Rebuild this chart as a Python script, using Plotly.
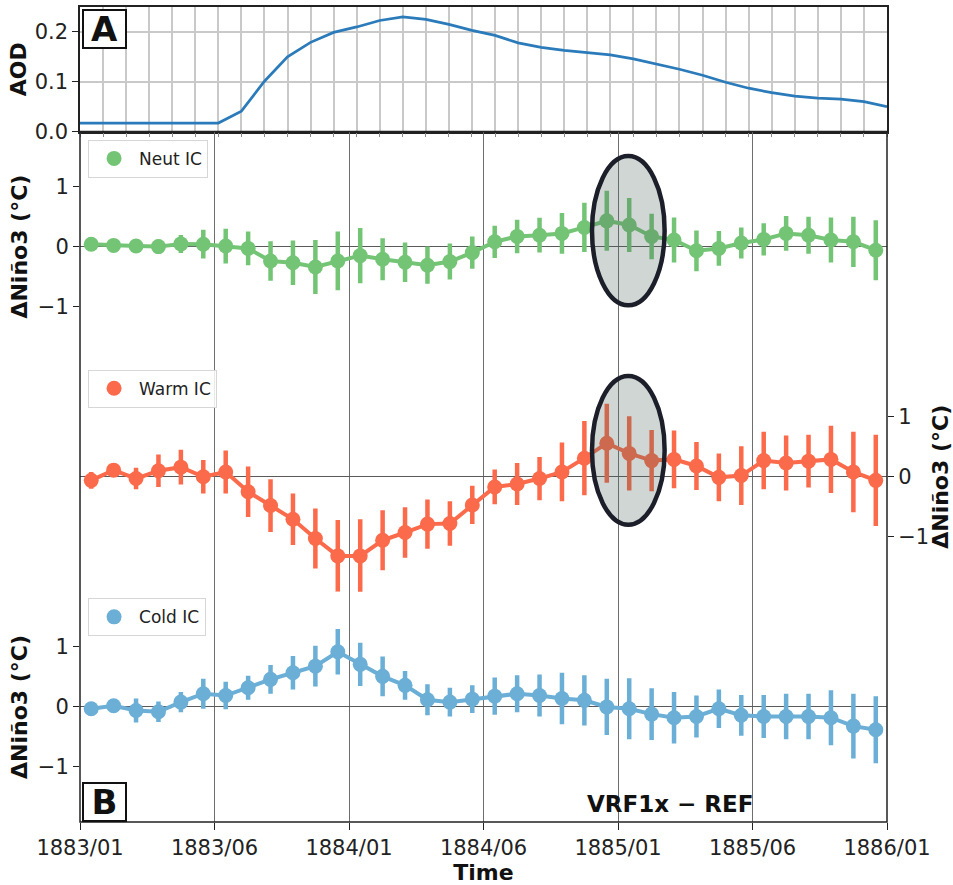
import plotly.graph_objects as go

# ---------------- data ----------------
TICK_LABELS = ["1883/01", "1883/06", "1884/01", "1884/06", "1885/01", "1885/06", "1886/01"]
TICK_MONTHS = [0, 6, 12, 18, 24, 30, 36]

AOD = [0.017, 0.017, 0.017, 0.017, 0.017, 0.017, 0.017, 0.041, 0.101, 0.150,
       0.179, 0.199, 0.210, 0.223, 0.230, 0.225, 0.215, 0.203, 0.193, 0.178,
       0.169, 0.163, 0.159, 0.154, 0.146, 0.136, 0.125, 0.113, 0.099, 0.087,
       0.078, 0.071, 0.067, 0.065, 0.060, 0.050]

NEUT = [0.04, 0.02, 0.01, 0.00, 0.045, 0.04, 0.01, -0.03, -0.24, -0.27,
        -0.34, -0.24, -0.15, -0.21, -0.26, -0.31, -0.25, -0.10, 0.08, 0.17,
        0.19, 0.22, 0.32, 0.43, 0.36, 0.17, 0.11, -0.07, -0.03, 0.06,
        0.12, 0.22, 0.19, 0.11, 0.08, -0.06]
NEUT_ERR = [0.05, 0.05, 0.06, 0.12, 0.15, 0.24, 0.29, 0.28, 0.33, 0.37,
            0.45, 0.49, 0.46, 0.35, 0.33, 0.31, 0.30, 0.27, 0.27, 0.28,
            0.29, 0.34, 0.41, 0.50, 0.45, 0.38, 0.375, 0.34, 0.29, 0.26,
            0.27, 0.29, 0.31, 0.375, 0.42, 0.50]

WARM = [-0.06, 0.11, -0.03, 0.10, 0.16, 0.00, 0.08, -0.25, -0.48, -0.71,
        -1.03, -1.32, -1.32, -1.06, -0.93, -0.79, -0.78, -0.47, -0.17, -0.12,
        -0.03, 0.08, 0.31, 0.56, 0.39, 0.27, 0.29, 0.18, -0.01, 0.02,
        0.27, 0.23, 0.26, 0.29, 0.08, -0.06]
WARM_ERR = [0.14, 0.10, 0.18, 0.27, 0.29, 0.28, 0.36, 0.42, 0.44, 0.43,
            0.50, 0.60, 0.61, 0.50, 0.42, 0.41, 0.37, 0.32, 0.29, 0.35,
            0.36, 0.49, 0.62, 0.66, 0.62, 0.51, 0.48, 0.40, 0.40, 0.49,
            0.48, 0.46, 0.44, 0.56, 0.67, 0.76]

COLD = [-0.03, 0.02, -0.06, -0.08, 0.08, 0.22, 0.19, 0.32, 0.46, 0.57,
        0.68, 0.92, 0.71, 0.51, 0.36, 0.12, 0.08, 0.13, 0.18, 0.22,
        0.19, 0.14, 0.11, 0.00, -0.03, -0.12, -0.18, -0.16, -0.03, -0.14,
        -0.16, -0.16, -0.16, -0.18, -0.32, -0.38]
COLD_ERR = [0.07, 0.08, 0.20, 0.17, 0.17, 0.25, 0.23, 0.20, 0.24, 0.28,
            0.34, 0.38, 0.36, 0.33, 0.24, 0.26, 0.24, 0.23, 0.31, 0.31,
            0.35, 0.43, 0.42, 0.47, 0.51, 0.43, 0.43, 0.35, 0.32, 0.34,
            0.36, 0.38, 0.38, 0.46, 0.54, 0.56]

SERIES = [
    ("Neut IC", NEUT, NEUT_ERR, "#74c476"),
    ("Warm IC", WARM, WARM_ERR, "#fb6a4a"),
    ("Cold IC", COLD, COLD_ERR, "#6baed6"),
]

# ---------------- layout constants ----------------
FONT = "DejaVu Sans"
months = list(range(len(AOD)))
centers = [m + 0.5 for m in months]

A_BOTTOM = 0.8472
SEC = A_BOTTOM / 3.0
Y_DOMAINS = [[2 * SEC, 3 * SEC], [SEC, 2 * SEC], [0, SEC]]
YR = [-1.92, 1.92]
GRID_DARK = "#6e6e6e"
GRID_LIGHT = "#c9c9c9"

fig = go.Figure()

# panel A
fig.add_trace(go.Scatter(x=months, y=AOD, mode="lines", xaxis="x", yaxis="y",
                         line=dict(color="#2b7bba", width=2.7), showlegend=False,
                         hoverinfo="skip"))

legend_keys = ["legend", "legend2", "legend3"]
for k, (name, vals, errs, col) in enumerate(SERIES):
    ax = str(k + 2)
    fig.add_trace(go.Scatter(
        x=centers, y=vals, mode="lines+markers", xaxis="x" + ax, yaxis="y" + ax,
        line=dict(color=col, width=4), marker=dict(size=15, color=col),
        error_y=dict(type="data", array=errs, visible=True, thickness=4.5, width=0, color=col),
        showlegend=False, name=name))
    fig.add_trace(go.Scatter(
        x=[None], y=[None], mode="markers", xaxis="x" + ax, yaxis="y" + ax,
        marker=dict(size=15, color=col), name=name, legend=legend_keys[k], showlegend=True))

tick_font = dict(family=FONT, size=21, color="#222")
title_font = dict(family=FONT, size=22, color="#111")
ytitle = "<b>ΔNiño3 (°C)</b>"

layout = dict(
    width=953, height=885,
    margin=dict(l=80, r=66, t=7, b=63, autoexpand=False),
    paper_bgcolor="white", plot_bgcolor="white",
    font=dict(family=FONT, color="#222"),
    xaxis=dict(domain=[0, 1], anchor="y", range=[0, 35], dtick=1, tick0=0,
               showgrid=True, gridcolor=GRID_LIGHT, gridwidth=1.5, automargin=False,
               showticklabels=False, ticks="outside", ticklen=4, tickcolor="#888",
               showline=True, mirror=True, linecolor="#222", linewidth=1.5, zeroline=False),
    yaxis=dict(domain=[A_BOTTOM, 1], anchor="x", range=[0, 0.25], automargin=False,
               tickvals=[0, 0.1, 0.2], tickformat=".1f", tickfont=tick_font,
               showgrid=True, gridcolor=GRID_LIGHT, gridwidth=1.5,
               ticks="outside", ticklen=6, tickcolor="#222",
               showline=True, mirror=True, linecolor="#222", linewidth=1.5, zeroline=False,
               title=dict(text="<b>AOD</b>", font=title_font, standoff=2)),
)

for k in range(3):
    ax = str(k + 2)
    xa = dict(domain=[0, 1], anchor="y" + ax, range=[0, 36], tickvals=TICK_MONTHS,
              showgrid=True, gridcolor=GRID_DARK, gridwidth=1.3, zeroline=False,
              showticklabels=False, ticks="", automargin=False)
    if k > 0:
        xa["matches"] = "x2"
    if k == 2:
        xa.update(ticktext=TICK_LABELS, showticklabels=True, tickfont=tick_font,
                  ticks="outside", ticklen=7, tickcolor="#222",
                  title=dict(text="<b>Time</b>", font=title_font, standoff=6))
    layout["xaxis" + ax] = xa
    ya = dict(domain=Y_DOMAINS[k], anchor="x" + ax, range=YR, tickvals=[-1, 0, 1],
              showgrid=False, zeroline=True, zerolinecolor="#5a5a5a", zerolinewidth=1.3,
              tickfont=tick_font, ticks="outside", ticklen=6, tickcolor="#222",
              showline=False, automargin=False,
              title=dict(text=ytitle, font=title_font, standoff=4 if k != 1 else 10))
    if k == 1:
        ya["side"] = "right"
    layout["yaxis" + ax] = ya

legend_tops = [0.837, 0.555, 0.2745]
for k, key in enumerate(legend_keys):
    layout[key] = dict(x=0.01, y=legend_tops[k], xanchor="left", yanchor="top",
                       bgcolor="rgba(255,255,255,0.85)", bordercolor="#d6d6d6", borderwidth=1,
                       font=dict(family=FONT, size=17, color="#222"),
                       itemwidth=40)

fig.update_layout(**layout)

# frame around panel B
fig.add_shape(type="rect", xref="paper", yref="paper", x0=0, x1=1, y0=0, y1=A_BOTTOM,
              line=dict(color="#222", width=1.5), layer="above")

# highlight ellipses (1885/01 region)
ELLIPSES = [("x2", "y2", 22.84, 26.08, -0.98, 1.51),
            ("x3", "y3", 22.84, 26.08, -0.80, 1.68)]
for xr, yr, x0, x1, y0, y1 in ELLIPSES:
    fig.add_shape(type="circle", xref=xr, yref=yr, x0=x0, x1=x1, y0=y0, y1=y1,
                  fillcolor="rgba(80,105,92,0.27)", line=dict(color="#1c1f2a", width=4.5),
                  layer="above")

# panel labels
fig.add_annotation(text="<b>A</b>", xref="paper", yref="paper", x=0, y=1,
                   xanchor="left", yanchor="top", xshift=2, yshift=-2, showarrow=False,
                   font=dict(family=FONT, size=34, color="#111"), bgcolor="white",
                   bordercolor="#111", borderwidth=2, borderpad=0, width=41, height=36)
fig.add_annotation(text="<b>B</b>", xref="paper", yref="paper", x=0, y=0,
                   xanchor="left", yanchor="bottom", xshift=2, yshift=0, showarrow=False,
                   font=dict(family=FONT, size=34, color="#111"), bgcolor="white",
                   bordercolor="#111", borderwidth=2, borderpad=0, width=41, height=36)
fig.add_annotation(text="<b>VRF1x − REF</b>", xref="paper", yref="paper",
                   x=(670 - 80) / 807, y=0.022, xanchor="center", yanchor="middle",
                   showarrow=False, font=dict(family=FONT, size=23, color="#111"))

fig.write_html("out.html")
